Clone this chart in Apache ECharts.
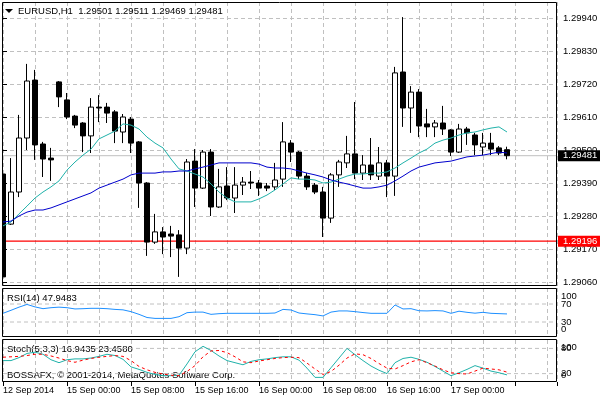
<!DOCTYPE html>
<html><head><meta charset="utf-8">
<script src="https://cdn.jsdelivr.net/npm/echarts@6/dist/echarts.min.js"></script>
<style>html,body{margin:0;padding:0;background:#fff}#c{width:600px;height:400px}</style>
</head><body><div id="c"></div>
<script>
// ---------- data ----------
const symbolTitle = 'EURUSD,H1';
const lastQuote = ['1.29501', '1.29511', '1.29469', '1.29481'];
const rsiCaption = 'RSI(14) 47.9483';
const stochCaption = 'Stoch(5,3,3) 16.9435 23.4580';
const copyright = 'BOSSAFX, \u00a9 2001-2014, MetaQuotes Software Corp.';
const timeLabels = ['12 Sep 2014', '15 Sep 00:00', '15 Sep 08:00', '15 Sep 16:00',
  '16 Sep 00:00', '16 Sep 08:00', '16 Sep 16:00', '17 Sep 00:00'];

const opens = [1.29420,1.29253,1.29360,1.29540,1.29733,1.29520,1.29473,1.29727,1.29667,1.29613,
  1.29590,1.29547,1.29643,1.29643,1.29627,1.29560,1.29603,1.29527,1.29390,1.29193,
  1.29227,1.29220,1.29217,1.29173,1.29463,1.29373,1.29493,1.29310,1.29380,1.29340,
  1.29383,1.29393,1.29390,1.29380,1.29377,1.29403,1.29523,1.29493,1.29413,1.29383,
  1.29360,1.29273,1.29417,1.29457,1.29487,1.29423,1.29450,1.29413,1.29457,1.29413,
  1.29760,1.29640,1.29693,1.29587,1.29577,1.29590,1.29567,1.29493,1.29570,1.29550,
  1.29510,1.29523,1.29507,1.29501];
const highs = [1.29427,1.29473,1.29617,1.29787,1.29767,1.29527,1.29507,1.29730,1.29690,1.29617,
  1.29593,1.29673,1.29683,1.29657,1.29633,1.29620,1.29610,1.29530,1.29393,1.29287,
  1.29243,1.29247,1.29233,1.29470,1.29503,1.29500,1.29503,1.29437,1.29443,1.29443,
  1.29410,1.29430,1.29400,1.29390,1.29457,1.29593,1.29533,1.29497,1.29423,1.29390,
  1.29377,1.29423,1.29467,1.29547,1.29660,1.29483,1.29540,1.29510,1.29467,1.29777,
  1.29943,1.29713,1.29703,1.29637,1.29600,1.29647,1.29570,1.29587,1.29577,1.29557,
  1.29557,1.29557,1.29513,1.29511];
const lows = [1.29070,1.29250,1.29343,1.29500,1.29467,1.29410,1.29397,1.29643,1.29603,1.29573,
  1.29493,1.29490,1.29593,1.29590,1.29523,1.29523,1.29490,1.29307,1.29147,1.29187,
  1.29153,1.29143,1.29077,1.29153,1.29310,1.29370,1.29280,1.29307,1.29333,1.29290,
  1.29350,1.29370,1.29347,1.29363,1.29367,1.29377,1.29460,1.29403,1.29367,1.29353,
  1.29210,1.29257,1.29377,1.29440,1.29403,1.29400,1.29400,1.29400,1.29343,1.29347,
  1.29577,1.29557,1.29543,1.29543,1.29543,1.29550,1.29480,1.29490,1.29517,1.29483,
  1.29483,1.29483,1.29483,1.29469];
const closes = [1.29077,1.29360,1.29540,1.29730,1.29517,1.29470,1.29467,1.29677,1.29610,1.29583,
  1.29547,1.29643,1.29640,1.29623,1.29563,1.29610,1.29523,1.29390,1.29193,1.29227,
  1.29210,1.29213,1.29173,1.29460,1.29373,1.29493,1.29310,1.29377,1.29340,1.29383,
  1.29393,1.29390,1.29373,1.29373,1.29400,1.29527,1.29493,1.29413,1.29377,1.29360,
  1.29273,1.29417,1.29460,1.29487,1.29423,1.29450,1.29417,1.29457,1.29413,1.29757,
  1.29640,1.29693,1.29580,1.29577,1.29590,1.29570,1.29493,1.29570,1.29557,1.29517,
  1.29523,1.29503,1.29490,1.29481];

const maFast = [1.29247,1.29260,1.29287,1.29313,1.29340,1.29360,1.29377,1.29397,1.29433,1.29460,
  1.29483,1.29503,1.29537,1.29550,1.29563,1.29587,1.29583,1.29570,1.29543,1.29523,
  1.29507,1.29470,1.29437,1.29430,1.29420,1.29410,1.29387,1.29360,1.29340,1.29327,
  1.29327,1.29327,1.29337,1.29350,1.29367,1.29387,1.29407,1.29403,1.29403,1.29400,
  1.29390,1.29393,1.29403,1.29413,1.29420,1.29420,1.29423,1.29423,1.29427,1.29440,
  1.29457,1.29473,1.29490,1.29503,1.29523,1.29533,1.29540,1.29550,1.29557,1.29560,
  1.29567,1.29573,1.29577,1.29560];
const maSlow = [1.29260,1.29263,1.29280,1.29293,1.29300,1.29300,1.29307,1.29317,1.29327,1.29337,
  1.29347,1.29357,1.29373,1.29383,1.29393,1.29403,1.29417,1.29423,1.29423,1.29423,
  1.29427,1.29427,1.29430,1.29430,1.29437,1.29443,1.29450,1.29457,1.29457,1.29457,
  1.29457,1.29457,1.29453,1.29443,1.29440,1.29440,1.29437,1.29430,1.29423,1.29417,
  1.29410,1.29400,1.29393,1.29387,1.29380,1.29373,1.29373,1.29377,1.29383,1.29397,
  1.29413,1.29430,1.29443,1.29450,1.29457,1.29460,1.29463,1.29470,1.29477,1.29480,
  1.29483,1.29488,1.29493,1.29490];

const rsi = [49.3,56,63,69,63.6,59.6,61.8,63,61.8,59,
  59.6,60.4,60.4,59.6,58,57,53,47,40,38,
  38,38,41.8,50.7,52,52,47,48.5,49.3,49.3,
  49.3,49.3,49.3,49.3,50,58,56.7,50,48,46.3,
  43.5,52,54.6,54.6,53,51,49.3,49.3,49.3,67.9,
  59,59.6,55,54.6,55.3,54.6,49.3,54,51.5,49.6,
  51.5,49.3,48.6,47.9483];
const stochMain = [51,51,58,68,71,66,53,46,53,55,
  55,57,61,66,63,54,36,30,23,18,
  15,15,16,43,72,85,75,62,51,46,
  41,49,53,55,58,60,60,52,33,11,
  11,34,57,80,65,51,38,28,20,46,
  56,59,54,47,37,26,15,22,30,39,
  33,26,22,16.9435];
const stochSignal = [59,60,61,63,66,66,62,57,51,47,
  52,56,59,61,63,61,51,37,29,23,
  19,16,15,25,39,60,74,75,70,60,
  48,46,50,53,56,58,59,58,45,31,
  18,25,40,57,67,65,56,44,33,31,
  39,48,53,46,38,29,22,20,19,26,
  33,31,29,23.458];

const bidPrice = 1.29481;
const levelPrice = 1.29196;
const rsiLevels = [70, 30];
const rsiAxisLabels = [100, 70, 30, 0];
const stochLevels = [80, 20];
const stochAxisLabels = [100, 80, 20, 0];

// ---------- chart ----------
const F = '"Liberation Sans", Arial, sans-serif';
const dash = { color: '#c0c0c0', type: [4, 3], width: 1 };
const XMAX = 69.25;

const candleData = closes.map((c, i) => [i, opens[i], c, lows[i], highs[i]]);
const pairs = arr => arr.map((v, i) => [i, v]);
const hline = v => [[0, v], [XMAX, v]];

function xSplit(grid, pos) {
  return { gridIndex: grid, type: 'value', min: 0, max: XMAX, interval: 4, position: pos || 'bottom',
    axisLine: { show: false }, axisTick: { show: false }, axisLabel: { show: false },
    splitLine: { show: true, lineStyle: dash } };
}
function xHidden(grid) {
  return { gridIndex: grid, type: 'value', min: 0, max: XMAX, show: false };
}
function yHidden(grid) {
  return { gridIndex: grid, type: 'value', min: 0, max: 1, show: false };
}
function subAxis(grid, labels, pad) {
  const top = labels[0], bottom = labels[labels.length - 1];
  return {
    gridIndex: grid, type: 'value', position: 'right', min: 0, max: 100, interval: 10,
    axisLine: { show: false }, axisTick: { show: false }, splitLine: { show: false },
    axisLabel: {
      margin: 4, color: '#000', fontFamily: F, fontSize: 9.5,
      formatter: v => v === top ? '{t|' + v + '}' : v === bottom ? '{b|' + v + '}' :
        (labels.indexOf(v) >= 0 ? String(v) : ''),
      rich: {
        t: { padding: [pad, 0, 0, 0], fontFamily: F, fontSize: 9.5, color: '#000' },
        b: { padding: [0, 0, pad, 0], fontFamily: F, fontSize: 9.5, color: '#000' }
      }
    }
  };
}
function levelSeries(xi, yi, levels) {
  return levels.map(v => ({ type: 'line', xAxisIndex: xi, yAxisIndex: yi, data: hline(v), symbol: 'none',
    silent: true, z: 1, lineStyle: { color: '#c0c0c0', type: [4, 3], width: 1 } }));
}
function priceLine(price, lineColor, bg, w) {
  return { type: 'line', xAxisIndex: 1, yAxisIndex: 1, data: hline(price), symbol: 'none', silent: true, z: 1,
    lineStyle: { color: lineColor, width: w },
    endLabel: { show: true, distance: 1, formatter: price.toFixed(5), color: '#fff', align: 'left',
      backgroundColor: bg, padding: [1, 4, 0, 5], fontFamily: F, fontSize: 9.5 } };
}

const gridBase = { outerBoundsMode: 'none', containLabel: false };
const option = {
  animation: false,
  backgroundColor: '#ffffff',
  grid: [
    Object.assign({ left: 3, top: 2, width: 554, height: 284 }, gridBase),
    Object.assign({ left: 3, top: 18, width: 554, height: 264 }, gridBase),
    Object.assign({ left: 3, top: 288, width: 554, height: 49 }, gridBase),
    Object.assign({ left: 3, top: 290.5, width: 554, height: 45 }, gridBase),
    Object.assign({ left: 3, top: 340, width: 554, height: 42 }, gridBase)
  ],
  xAxis: [
    xSplit(0), xHidden(1), xSplit(2), xHidden(3), xSplit(4, 'top'),
    { gridIndex: 4, type: 'value', min: 0, max: XMAX, interval: 8, position: 'bottom',
      axisLine: { show: false }, splitLine: { show: false },
      axisTick: { show: true, length: 4, lineStyle: { color: '#000' } },
      axisLabel: { margin: 4, align: 'left', color: '#000', fontFamily: F, fontSize: 9,
        formatter: v => (v % 8 === 0 && timeLabels[v / 8]) ? timeLabels[v / 8] : '' } }
  ],
  yAxis: [
    yHidden(0),
    { gridIndex: 1, type: 'value', position: 'right', min: 1.2906, max: 1.2994, interval: 0.0011,
      axisLine: { show: false }, axisTick: { show: true, length: 4, lineStyle: { color: '#000' } },
      axisLabel: { margin: 6, color: '#000', fontFamily: F, fontSize: 9.5, formatter: v => v.toFixed(5) },
      splitLine: { show: true, lineStyle: dash } },
    yHidden(2),
    subAxis(3, rsiAxisLabels, 12),
    subAxis(4, stochAxisLabels, 14)
  ],
  series: [
    priceLine(bidPrice, '#c0c0c0', '#000000', 1),
    priceLine(levelPrice, '#ff0000', '#ff0000', 1.3),
    { type: 'candlestick', xAxisIndex: 1, yAxisIndex: 1, barWidth: 5, data: candleData,
      encode: { x: 0, y: [1, 2, 3, 4] },
      itemStyle: { color: '#ffffff', color0: '#000000', borderColor: '#000000', borderColor0: '#000000',
        borderColorDoji: '#000000', borderWidth: 1 } },
    { type: 'line', xAxisIndex: 1, yAxisIndex: 1, data: pairs(maFast), symbol: 'none', z: 3,
      lineStyle: { color: '#20b2aa', width: 1 } },
    { type: 'line', xAxisIndex: 1, yAxisIndex: 1, data: pairs(maSlow), symbol: 'none', z: 3,
      lineStyle: { color: '#0000cd', width: 1 } },
    ...levelSeries(3, 3, rsiLevels),
    { type: 'line', xAxisIndex: 3, yAxisIndex: 3, data: pairs(rsi), symbol: 'none',
      lineStyle: { color: '#1e90ff', width: 1 } },
    ...levelSeries(5, 4, stochLevels),
    { type: 'line', xAxisIndex: 5, yAxisIndex: 4, data: pairs(stochMain), symbol: 'none',
      lineStyle: { color: '#20b2aa', width: 1 } },
    { type: 'line', xAxisIndex: 5, yAxisIndex: 4, data: pairs(stochSignal), symbol: 'none',
      lineStyle: { color: '#ff0000', width: 1, type: [3, 3] } }
  ],
  graphic: [
    { type: 'rect', z: 50, silent: true, shape: { x: 0, y: 0, width: 2, height: 290 },
      style: { fill: '#ffffff' } },
    { type: 'rect', z: 51, silent: true, shape: { x: 2.5, y: 2.5, width: 554, height: 283 },
      style: { fill: 'none', stroke: '#000', lineWidth: 1 } },
    { type: 'rect', z: 51, silent: true, shape: { x: 2.5, y: 288.5, width: 554, height: 48 },
      style: { fill: 'none', stroke: '#000', lineWidth: 1 } },
    { type: 'rect', z: 51, silent: true, shape: { x: 2.5, y: 339.5, width: 554, height: 42 },
      style: { fill: 'none', stroke: '#000', lineWidth: 1 } },
    { type: 'polygon', z: 1, silent: true, shape: { points: [[5, 9], [13, 9], [9, 13]] },
      style: { fill: '#000' } },
    { type: 'text', z: 1, silent: true, style: { text: symbolTitle + '  ' + lastQuote.join(' '),
      x: 18, y: 11, fill: '#000', font: '9.5px ' + F, align: 'left', verticalAlign: 'middle' } },
    { type: 'text', z: 1, silent: true, style: { text: rsiCaption,
      x: 7, y: 298, fill: '#000', font: '9.5px ' + F, align: 'left', verticalAlign: 'middle' } },
    { type: 'text', z: 1, silent: true, style: { text: stochCaption,
      x: 7, y: 349, fill: '#000', font: '9.5px ' + F, align: 'left', verticalAlign: 'middle' } },
    { type: 'text', z: 1, silent: true, style: { text: copyright,
      x: 7, y: 375, fill: '#000', font: '9.5px ' + F, align: 'left', verticalAlign: 'middle' } }
  ]
};
const chart = echarts.init(document.getElementById('c'), null, { renderer: 'canvas' });
chart.setOption(option);
</script>
</body></html>
